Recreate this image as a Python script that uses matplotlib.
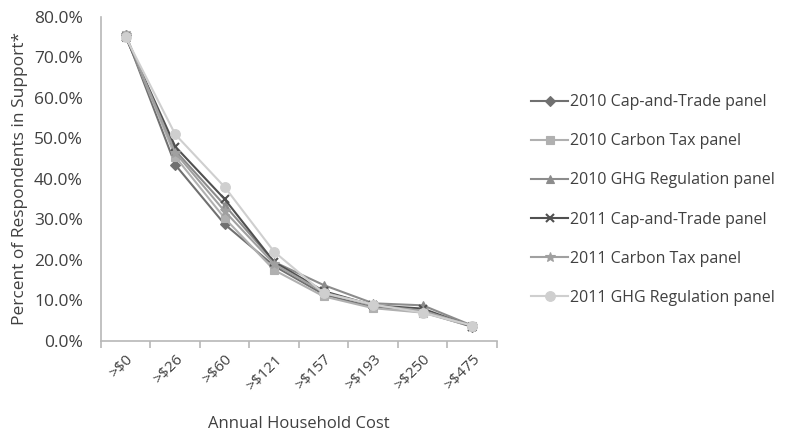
import numpy as np
import matplotlib.pyplot as plt
from matplotlib.ticker import PercentFormatter

plt.rcParams['font.family'] = ['Open Sans', 'DejaVu Sans']

costs = ['>$0', '>$26', '>$60', '>$121', '>$157', '>$193', '>$250', '>$475']

ct_2010 = [75.5, 43.5, 28.8, 18.5, 11.5, 8.3, 7.2, 3.5]
tax_2010 = [75.5, 45.5, 30.3, 17.5, 11.0, 8.1, 7.0, 3.6]
ghg_2010 = [75.0, 47.0, 33.5, 19.5, 13.8, 9.3, 8.8, 3.8]
ct_2011 = [75.0, 48.0, 35.0, 19.5, 12.3, 8.8, 8.0, 3.5]
tax_2011 = [75.5, 46.5, 32.0, 19.0, 12.0, 8.8, 7.5, 3.7]
ghg_2011 = [75.0, 51.0, 38.0, 22.0, 11.8, 9.0, 7.0, 3.8]

series = [
    ('2010 Cap-and-Trade panel', ct_2010, 'D', '#707070', 5),
    ('2010 Carbon Tax panel', tax_2010, 's', '#b0b0b0', 6),
    ('2010 GHG Regulation panel', ghg_2010, '^', '#8c8c8c', 6),
    ('2011 Cap-and-Trade panel', ct_2011, 'x', '#505050', 6),
    ('2011 Carbon Tax panel', tax_2011, '*', '#a0a0a0', 7),
    ('2011 GHG Regulation panel', ghg_2011, 'o', '#cfcfcf', 7),
]

fig = plt.figure(figsize=(7.92, 4.33), dpi=100)
ax = fig.add_axes([0.1275, 0.2125, 0.5, 0.7485])

x = np.arange(len(costs))
for label, vals, m, c, ms in series:
    ax.plot(x, np.array(vals) / 100, marker=m, color=c, ms=ms, lw=1.5,
            mew=1.5 if m == 'x' else 0.8, label=label)

ax.set_xlim(-0.5, len(costs) - 0.5)
ax.set_ylim(0, 0.8)
ax.set_yticks(np.arange(0, 0.81, 0.1))
ax.yaxis.set_major_formatter(PercentFormatter(1.0, decimals=1))
ax.set_xticks(x)
ax.set_xticklabels(costs, rotation=45, ha='right', rotation_mode='anchor')
ax.set_xticks(np.arange(-0.5, len(costs)), minor=True)

for s in ['top', 'right']:
    ax.spines[s].set_visible(False)
for s in ['left', 'bottom']:
    ax.spines[s].set_color('#b8b8b8')
    ax.spines[s].set_linewidth(1.2)
ax.tick_params(axis='y', length=0, labelsize=12.5, colors='#404040', pad=13)
ax.tick_params(axis='x', which='major', length=0, labelsize=11,
               colors='#404040', pad=8)
ax.tick_params(axis='x', which='minor', length=5, color='#b8b8b8', width=1.2)

ax.set_ylabel('Percent of Respondents in Support*', fontsize=12.5,
              color='#404040', labelpad=4)
ax.set_xlabel('Annual Household Cost', fontsize=12, color='#404040',
              labelpad=16)

ax.legend(loc='center left', bbox_to_anchor=(1.05, 0.435), frameon=False,
          fontsize=11.5, labelspacing=1.45, handlelength=2.3, handletextpad=0.15,
          labelcolor='#404040')

fig.savefig('out.png', dpi=100)
